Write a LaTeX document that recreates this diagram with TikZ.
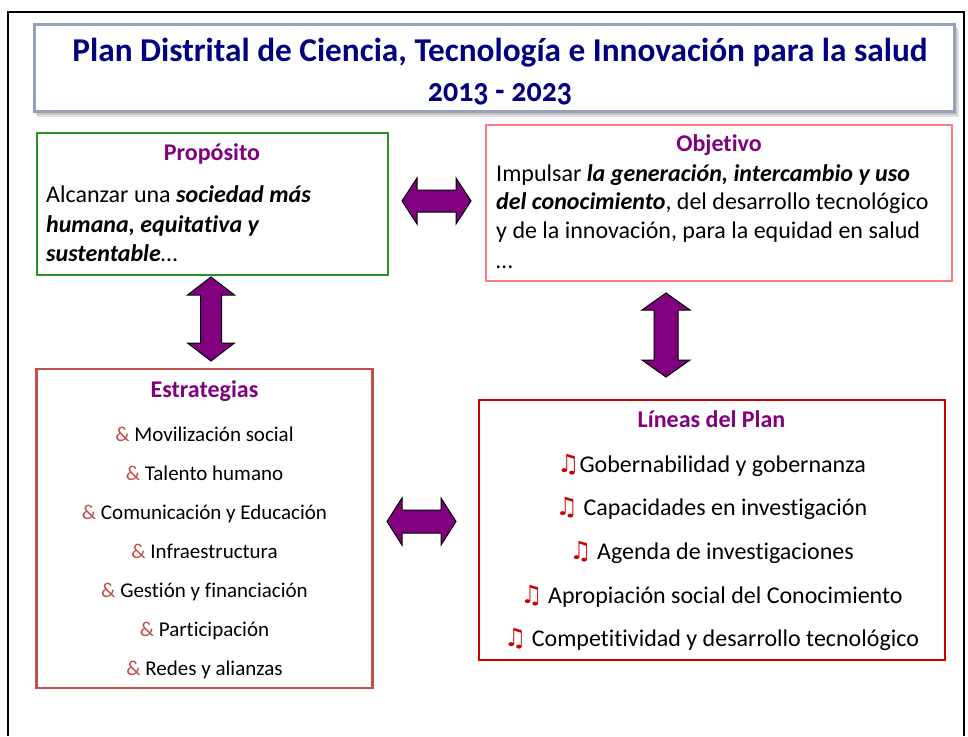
\documentclass[tikz,border=0pt]{standalone}
\usepackage{fontspec}
\setmainfont{Carlito}[Ligatures=NoCommon]
\newfontfamily\yearfont{Carlito}[Numbers=OldStyle]
\newfontfamily\symfont{DejaVu Sans}
\definecolor{navy}{RGB}{0,0,128}
\definecolor{headpurple}{RGB}{128,0,128}
\definecolor{arrowpurple}{RGB}{128,0,128}
\definecolor{propgreen}{RGB}{40,145,40}
\definecolor{objred}{RGB}{255,125,128}
\definecolor{estred}{RGB}{192,80,77}
\definecolor{linred}{RGB}{204,0,0}
\definecolor{ampred}{RGB}{192,80,77}
\definecolor{notered}{RGB}{205,0,0}
\definecolor{titleborder}{RGB}{150,160,185}
\newcommand{\notesym}{{\symfont\bfseries\fontsize{25}{29}\selectfont\color{notered}♫}}
\begin{document}
\begin{tikzpicture}[x=1pt,y=-1pt,
  heading/.style={font=\fontsize{24}{29}\selectfont\bfseries, text=headpurple, anchor=base, inner sep=0pt},
  bodyline/.style={font=\fontsize{24}{29}\selectfont, anchor=base west, inner sep=0pt},
  estitem/.style={font=\fontsize{21}{25}\selectfont, anchor=base, inner sep=0pt},
  linitem/.style={font=\fontsize{24}{29}\selectfont, anchor=base, inner sep=0pt},
  titletext/.style={font=\fontsize{33.3}{38}\selectfont\bfseries, text=navy, anchor=base, inner sep=0pt},
  blockarrow/.style={fill=arrowpurple, draw=black, line width=1pt, line join=miter},
  boxnode/.style={rectangle, inner sep=0pt, fill=white}]
\useasboundingbox (0,0) rectangle (968,736);
% outer frame
\draw[line width=2pt] (8,736) -- (8,12) -- (964,12) -- (964,736);
% title box with shadow
\fill[gray!25] (37,29) rectangle (959,117);
\fill[gray!45] (36,27) rectangle (957,115);
\node[boxnode, draw=titleborder, line width=2.5pt, minimum width=920pt, minimum height=87pt] (titlebox) at (494.5,68) {};
\node[titletext] (t1) at (500,61) {Plan Distrital de Ciencia, Tecnología e Innovación para la salud};
\node[titletext] (t2) at (500,101.5) {\scalebox{0.9}[1]{\yearfont 2013 - 2023}};
% Proposito
\node[boxnode, draw=propgreen, line width=2pt, minimum width=351pt, minimum height=142pt] (prop) at (212,204) {};
\node[heading] (proph) at (212,160) {Propósito};
\node[bodyline] (p1) at (46,202) {Alcanzar una \textbf{\textit{sociedad más}}};
\node[bodyline] (p2) at (46,232) {\textbf{\textit{humana, equitativa y}}};
\node[bodyline] (p3) at (46,261) {\textbf{\textit{sustentable}}…};
% Objetivo
\node[boxnode, draw=objred, line width=1.6pt, minimum width=466pt, minimum height=156pt] (obj) at (719,203) {};
\node[heading] (objh) at (719,151.5) {Objetivo};
\node[bodyline] (o1) at (496,181) {Impulsar \textbf{\textit{la generación, intercambio y uso}}};
\node[bodyline] (o2) at (496,209.5) {\textbf{\textit{del conocimiento}}, del desarrollo tecnológico};
\node[bodyline] (o3) at (496,238) {y de la innovación, para la equidad en salud};
\node[bodyline] (o4) at (496,268) {…};
% Estrategias
\node[boxnode, draw=estred, line width=2.2pt, minimum width=336pt, minimum height=319pt] (est) at (204.5,528.5) {};
\node[heading] (esth) at (204.5,397) {Estrategias};
\node[estitem] (e1) at (204.5,441) {{\color{ampred}\&} Movilización social};
\node[estitem] (e2) at (204.5,480) {{\color{ampred}\&} Talento humano};
\node[estitem] (e3) at (204.5,519) {{\color{ampred}\&} Comunicación y Educación};
\node[estitem] (e4) at (204.5,558) {{\color{ampred}\&} Infraestructura};
\node[estitem] (e5) at (204.5,597) {{\color{ampred}\&} Gestión y financiación};
\node[estitem] (e6) at (204.5,636) {{\color{ampred}\&} Participación};
\node[estitem] (e7) at (204.5,675) {{\color{ampred}\&} Redes y alianzas};
% Lineas del Plan
\node[boxnode, draw=linred, line width=2pt, minimum width=466pt, minimum height=260pt] (lin) at (711.5,529.5) {};
\node[heading] (linh) at (711.5,427) {Líneas del Plan};
\node[linitem] (l1) at (711.5,472) {\notesym Gobernabilidad y gobernanza};
\node[linitem] (l2) at (711.5,515) {\notesym{} Capacidades en investigación};
\node[linitem] (l3) at (711.5,559) {\notesym{} Agenda de investigaciones};
\node[linitem] (l4) at (711.5,603) {\notesym{} Apropiación social del Conocimiento};
\node[linitem] (l5) at (711.5,646) {\notesym{} Competitividad y desarrollo tecnológico};
% block arrows
\draw[blockarrow] (402,201) -- (417,178) -- (417,190) -- (456,190) -- (456,178) -- (471,201) -- (456,224) -- (456,212) -- (417,212) -- (417,224) -- cycle;
\draw[blockarrow] (387,521.5) -- (402,498) -- (402,510) -- (441,510) -- (441,498) -- (456,521.5) -- (441,545) -- (441,533) -- (402,533) -- (402,545) -- cycle;
\draw[blockarrow] (211,277) -- (234.5,295) -- (221.5,295) -- (221.5,343) -- (234.5,343) -- (211,361) -- (187.5,343) -- (200.5,343) -- (200.5,295) -- (187.5,295) -- cycle;
\draw[blockarrow] (666,293) -- (690,310) -- (678,310) -- (678,360) -- (690,360) -- (666,377) -- (642,360) -- (654,360) -- (654,310) -- (642,310) -- cycle;
\end{tikzpicture}
\end{document}
